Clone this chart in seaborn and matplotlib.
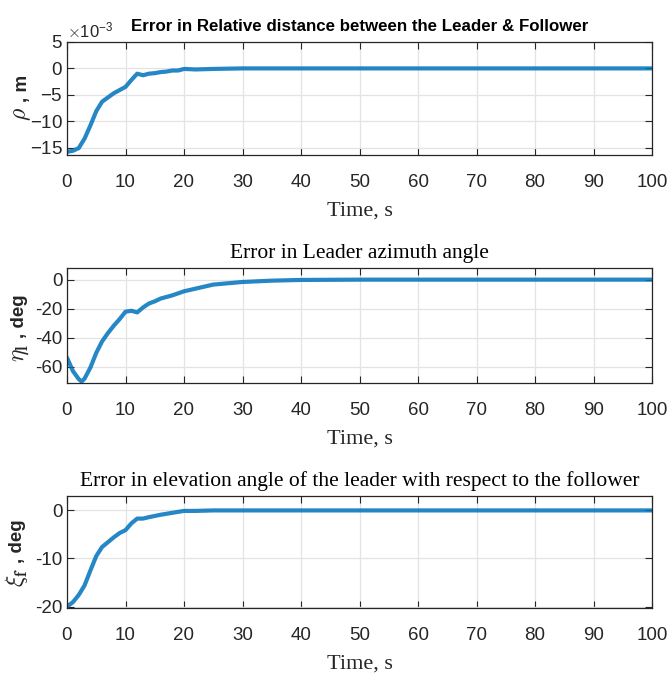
import numpy as np
import pandas as pd
import matplotlib
matplotlib.use("Agg")
import matplotlib.pyplot as plt
from matplotlib.ticker import ScalarFormatter
import seaborn as sns

# time samples (s)
t_rho = [0, 1, 2, 3, 4, 5, 6, 7, 8, 9, 10, 11, 12, 13, 14, 15, 16, 17, 18, 19, 20,
         22, 25, 30, 40, 50, 60, 70, 80, 90, 100]
# relative distance error (x 1e-3 m)
rho_err = [-15.8, -15.6, -15.1, -13.3, -10.8, -8.1, -6.3, -5.5, -4.7, -4.1, -3.5, -2.2, -1.0,
           -1.3, -1.0, -0.9, -0.7, -0.6, -0.4, -0.4, -0.1, -0.2, -0.1, 0.0, 0.0, 0.0, 0.0,
           0.0, 0.0, 0.0, 0.0]

t_eta = [0, 1, 2, 2.5, 3, 4, 5, 6, 7, 8, 9, 10, 11, 12, 13, 14, 15, 16, 18, 20,
         25, 30, 35, 40, 50, 60, 70, 80, 90, 100]
# leader azimuth angle error (deg)
eta_err = [-53.6, -62.7, -68.3, -70.0, -68.0, -60.4, -50.3, -42.4, -36.7, -31.6, -27.1, -22.0,
           -21.4, -22.5, -19.1, -16.4, -14.9, -13.0, -10.8, -8.0, -3.4, -1.6, -0.7, -0.2,
           0.0, 0.0, 0.0, 0.0, 0.0, 0.0]

t_xi = [0, 1, 2, 3, 4, 5, 6, 7, 8, 9, 10, 11, 12, 13, 14, 16, 18, 20, 22, 25,
        30, 40, 50, 60, 70, 80, 90, 100]
# elevation angle error (deg)
xi_err = [-20.0, -19.1, -17.6, -15.6, -12.5, -9.5, -7.6, -6.6, -5.6, -4.7, -4.1, -2.7, -1.7,
          -1.7, -1.4, -0.9, -0.5, -0.1, -0.1, 0.0, 0.0, 0.0, 0.0, 0.0, 0.0, 0.0, 0.0, 0.0]

titles = ["Error in Relative distance between the Leader & Follower",
          "Error in Leader azimuth angle",
          "Error in elevation angle of the leader with respect to the follower"]
# y labels: symbol part and unit part
label_sym = [r"$\rho$", r"$\eta_{\mathbf{l}}$", r"$\xi_{\mathbf{f}}$"]
label_unit = [", m", ", deg", ", deg"]

sns.set_style("ticks")
plt.rcParams["font.family"] = ["Liberation Sans", "DejaVu Sans"]
plt.rcParams["mathtext.fontset"] = "cm"
plt.rcParams["axes.unicode_minus"] = False

blue = "#0072BD"
dark = "#262626"
W, H = 668, 683

df_rho = pd.DataFrame({"t": t_rho, "v": np.array(rho_err) * 1e-3})
df_eta = pd.DataFrame({"t": t_eta, "v": eta_err})
df_xi = pd.DataFrame({"t": t_xi, "v": xi_err})

fig = plt.figure(figsize=(W / 100, H / 100), dpi=100)
left, width = 67 / W, 585 / W
ax1 = fig.add_axes([left, 1 - 155 / H, width, 113 / H])
ax2 = fig.add_axes([left, 1 - 383 / H, width, 115 / H])
ax3 = fig.add_axes([left, 1 - 608 / H, width, 112 / H])
axes = [ax1, ax2, ax3]

for ax, df in zip(axes, [df_rho, df_eta, df_xi]):
    sns.lineplot(data=df, x="t", y="v", ax=ax, color=blue, linewidth=3.0, alpha=0.85)

ax1.set_ylim(-16.4e-3, 5e-3)
ax1.set_yticks(np.array([-15, -10, -5, 0, 5]) * 1e-3)
fmt = ScalarFormatter(useMathText=True)
fmt.set_powerlimits((-3, -3))
ax1.yaxis.set_major_formatter(fmt)

ax2.set_ylim(-71, 8)
ax2.set_yticks([-60, -40, -20, 0])
ax3.set_ylim(-20.3, 3)
ax3.set_yticks([-20, -10, 0])

# pixel positions of the y-label pieces (symbol centre, unit start)
sym_pos = [(22, 114), (20, 353), (17, 578)]
unit_pos = [(22, 102), (19, 338), (18, 563)]

for i, ax in enumerate(axes):
    ax.set_xlim(0, 100)
    ax.set_xticks(range(0, 101, 10))
    ax.grid(True, color="#e3e3e3", linewidth=0.9)
    ax.set_axisbelow(True)
    for s in ax.spines.values():
        s.set_color(dark)
        s.set_linewidth(0.9)
    ax.tick_params(direction="in", top=True, right=True, length=5, width=0.8,
                   color=dark, labelsize=13.5, labelcolor=dark)
    ax.tick_params(axis="x", pad=13.5)
    ax.tick_params(axis="y", pad=3)
    ax.set_xlabel("Time, s", family="Liberation Serif", fontsize=16, color=dark, labelpad=8)
    ax.set_ylabel("")
    if i == 0:
        ax.set_title(titles[i], fontsize=12.2, fontweight="bold", color="black", y=1.0, pad=8)
    else:
        ax.set_title(titles[i], family="Liberation Serif", fontsize=15.5, color="black", pad=7)

    sx, sy = sym_pos[i]
    fig.text(sx / W, 1 - sy / H, label_sym[i], rotation=90, ha="center", va="center",
             fontsize=17, color=dark)
    ux, uy = unit_pos[i]
    fig.text(ux / W, 1 - uy / H, label_unit[i], rotation=90, ha="center", va="bottom",
             fontsize=13.5, fontweight="bold", color=dark)

off = ax1.yaxis.get_offset_text()
off.set_fontsize(12)
off.set_color(dark)

fig.savefig("out.png", dpi=100)
